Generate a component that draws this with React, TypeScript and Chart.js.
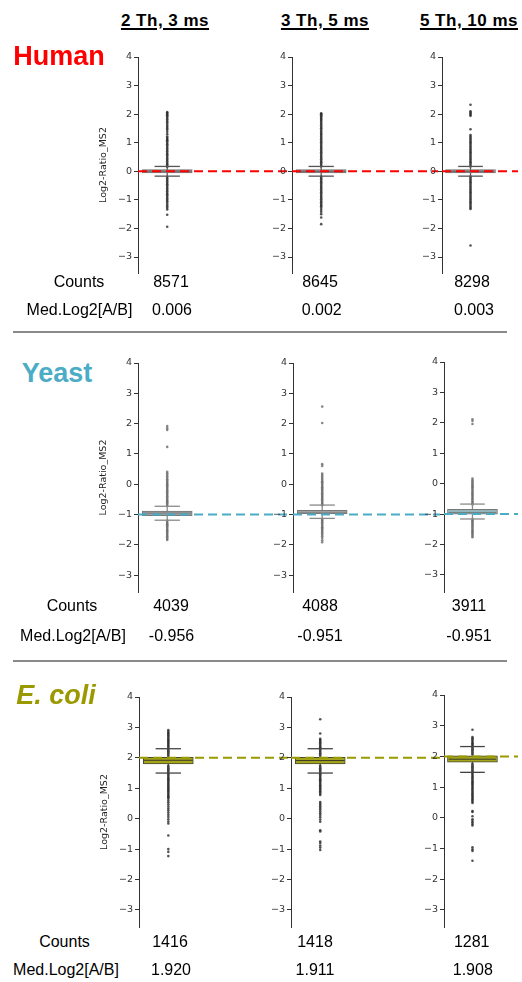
import React, { useEffect, useRef } from 'react';
import Chart from 'chart.js/auto';

// ---------------- data ----------------
const COLUMN_LABELS = ['2 Th, 3 ms', '3 Th, 5 ms', '5 Th, 10 ms'];
const SPECIES = ['Human', 'Yeast', 'E. coli'];
const EXPECTED_LOG2 = [0, -1, 2];
const Y_TICKS = [-3, -2, -1, 0, 1, 2, 3, 4];
const Y_MIN = -3.56;
const Y_MAX = 4;
const Y_TITLE = 'Log2-Ratio_MS2';
const COUNTS_LABEL = 'Counts';
const MEDIAN_LABEL = 'Med.Log2[A/B]';

const HUMAN_COUNTS = [8571, 8645, 8298];
const HUMAN_MEDIANS = [0.006, 0.002, 0.003];
const HUMAN_Q1 = [-0.06, -0.06, -0.06];
const HUMAN_Q3 = [0.06, 0.06, 0.06];
const HUMAN_WHISKER_LO = [-0.17, -0.17, -0.17];
const HUMAN_WHISKER_HI = [0.17, 0.17, 0.17];

const YEAST_COUNTS = [4039, 4088, 3911];
const YEAST_MEDIANS = [-0.956, -0.951, -0.951];
const YEAST_Q1 = [-1.04, -0.97, -1.0];
const YEAST_Q3 = [-0.89, -0.86, -0.84];
const YEAST_WHISKER_LO = [-1.19, -1.13, -1.16];
const YEAST_WHISKER_HI = [-0.73, -0.69, -0.67];

const ECOLI_COUNTS = [1416, 1418, 1281];
const ECOLI_MEDIANS = [1.92, 1.911, 1.908];
const ECOLI_Q1 = [1.8, 1.8, 1.81];
const ECOLI_Q3 = [2.02, 2.02, 2.02];
const ECOLI_WHISKER_LO = [1.5, 1.5, 1.48];
const ECOLI_WHISKER_HI = [2.3, 2.3, 2.32];

const HUMAN_POINTS_1 = [2.07, 2.04, 2.0, 1.96, 1.92, 1.87, 1.82, 1.77, 1.72, 1.66, 1.6, 1.55, 1.5, 1.45, 1.38, 1.3, 1.22, 1.17,
  1.13, 1.09, 1.05, 1.0, 0.95, 0.9, 0.85, 0.8, 0.75, 0.7, 0.65, 0.6, 0.55, 0.5, 0.45, 0.4, 0.35, 0.3, 0.25, 0.2, 0.15,
  -0.2, -0.25, -0.3, -0.35, -0.4, -0.45, -0.5, -0.55, -0.6, -0.65, -0.7, -0.75, -0.8, -0.85, -0.9, -0.95, -1.0, -1.05,
  -1.1, -1.16, -1.22, -1.28, -1.34, -1.52, -1.94];
const HUMAN_POINTS_2 = [2.03, 2.0, 1.96, 1.92, 1.88, 1.84, 1.8, 1.76, 1.71, 1.66, 1.61, 1.56, 1.51, 1.46, 1.41, 1.36, 1.31,
  1.27, 1.22, 1.17, 1.12, 1.07, 1.02, 0.97, 0.92, 0.87, 0.82, 0.77, 0.72, 0.67, 0.62, 0.57, 0.52, 0.47, 0.42, 0.37, 0.32, 0.27, 0.22, 0.17,
  -0.18, -0.23, -0.28, -0.33, -0.38, -0.43, -0.48, -0.53, -0.58, -0.63, -0.68, -0.73, -0.78, -0.83, -0.88, -0.93, -0.98, -1.03, -1.08, -1.13, -1.18, -1.22,
  -1.28, -1.35, -1.42, -1.5, -1.62, -1.85];
const HUMAN_POINTS_3 = [2.33, 2.1, 2.06, 2.02, 1.98, 1.94, 1.47, 1.27, 1.22, 1.17, 1.12, 1.07, 1.02, 0.97, 0.92, 0.87, 0.82,
  0.77, 0.72, 0.67, 0.62, 0.57, 0.52, 0.47, 0.42, 0.37, 0.32, 0.27, 0.22, 0.17,
  -0.18, -0.23, -0.28, -0.33, -0.38, -0.43, -0.48, -0.53, -0.58, -0.63, -0.68, -0.73, -0.78, -0.83, -0.88, -0.93, -0.98, -1.03, -1.08, -1.13, -1.18, -1.23, -1.28, -1.32,
  -2.6];

const YEAST_POINTS_1 = [1.92, 1.85, 1.79, 1.23, 0.41, 0.36, 0.31, 0.26, 0.21, 0.16, 0.12, 0.08, 0.04, 0.0, -0.04, -0.08, -0.12,
  -0.16, -0.2, -0.24, -0.28, -0.32, -0.36, -0.4, -0.44, -0.48, -0.52, -0.56, -0.6, -0.64, -0.68, -0.72,
  -1.2, -1.24, -1.28, -1.32, -1.36, -1.4, -1.44, -1.48, -1.52, -1.56, -1.6, -1.64, -1.68, -1.72, -1.76, -1.8, -1.84];
const YEAST_POINTS_2 = [2.56, 2.02, 0.66, 0.6, 0.35, 0.3, 0.25, 0.2, 0.15, 0.1, 0.06, 0.02, -0.02, -0.06, -0.1, -0.14, -0.18,
  -0.22, -0.26, -0.3, -0.34, -0.38, -0.42, -0.46, -0.5, -0.54, -0.58, -0.62, -0.66, -0.7,
  -1.14, -1.18, -1.22, -1.26, -1.3, -1.34, -1.38, -1.42, -1.46, -1.5, -1.54, -1.58, -1.62, -1.67, -1.72, -1.78, -1.85, -1.92];
const YEAST_POINTS_3 = [2.12, 2.06, 1.96, 0.17, 0.12, 0.08, 0.04, 0.0, -0.04, -0.08, -0.12, -0.16, -0.2, -0.24, -0.28, -0.32,
  -0.36, -0.4, -0.44, -0.48, -0.52, -0.56, -0.6, -0.64, -0.68,
  -1.16, -1.2, -1.24, -1.28, -1.32, -1.36, -1.4, -1.44, -1.48, -1.52, -1.56, -1.6, -1.64, -1.68, -1.72, -1.76];

const ECOLI_POINTS_1 = [2.91, 2.86, 2.82, 2.78, 2.74, 2.7, 2.66, 2.62, 2.58, 2.54, 2.5, 2.46, 2.42, 2.38, 2.34, 2.3, 2.26,
  2.22, 2.18, 2.14, 2.1, 2.06, 1.74, 1.7, 1.66, 1.62, 1.58, 1.54, 1.5, 1.46, 1.42, 1.38, 1.34, 1.3, 1.26, 1.22, 1.18,
  1.14, 1.1, 1.06, 1.02, 0.98, 0.94, 0.9, 0.86, 0.82, 0.78, 0.74, 0.7, 0.66, 0.6, 0.54, 0.47, 0.4, 0.33, 0.27, 0.2,
  0.13, 0.06, -0.02, -0.09, -0.16, -0.55, -1.0, -1.09, -1.23];
const ECOLI_POINTS_2 = [3.27, 2.8, 2.63, 2.59, 2.55, 2.51, 2.47, 2.43, 2.39, 2.35, 2.31, 2.27, 2.23, 2.19, 2.15, 2.11, 2.07,
  1.74, 1.7, 1.66, 1.62, 1.58, 1.54, 1.5, 1.46, 1.42, 1.38, 1.34, 1.3, 1.26, 1.22, 1.18, 1.14, 1.1, 1.06, 1.02, 0.98,
  0.94, 0.9, 0.86, 0.82, 0.78, 0.55, 0.5, 0.45, 0.4, 0.35, 0.3, 0.24, 0.18, 0.12, 0.05, -0.03, -0.1, -0.38, -0.42,
  -0.75, -0.8, -0.88, -0.95, -1.03];
const ECOLI_POINTS_3 = [2.87, 2.63, 2.59, 2.55, 2.51, 2.47, 2.43, 2.39, 2.35, 2.31, 2.27, 2.23, 2.19, 2.15, 2.11, 2.07,
  1.76, 1.72, 1.68, 1.64, 1.6, 1.56, 1.52, 1.48, 1.44, 1.4, 1.36, 1.32, 1.28, 1.24, 1.2, 1.16, 1.12, 1.08, 1.04, 1.0,
  0.96, 0.92, 0.88, 0.84, 0.8, 0.76, 0.72, 0.68, 0.64, 0.6, 0.56, 0.52, 0.48, 0.22, 0.19, 0.05, -0.05, -0.1, -0.15,
  -0.2, -0.25, -0.96, -1.03, -1.08, -1.4];

// ---------------- layout / style (not data) ----------------
const PAGE_W = 522;
const PAGE_H = 982;
const PAD = 10;
const BOX_W = 50;       // px
const BOX_OFFSET = 30;  // px from axis to box centre
const CAP_HALF = 0.26;  // box-widths
const FONT = "'Liberation Sans', Arial, sans-serif";
const TICK_FONT = "'DejaVu Sans', sans-serif";

const ROW_STYLE = [
  { color: '#ff0000', italic: false, boxFill: ['#a8a8a8', '#a8a8a8', '#a8a8a8'], boxBorder: '#707070', cap: '#555555', median: '#555555', point: 'rgba(40,40,40,0.8)' },
  { color: '#4bacc6', italic: false, boxFill: ['#a0a0a0', '#a0a0a0', '#93b4bd'], boxBorder: '#777777', cap: '#8a8a8a', median: '#7a7a7a', point: 'rgba(105,105,105,0.8)' },
  { color: '#9a9a00', italic: true, boxFill: ['#a5a51c', '#a5a51c', '#a5a51c'], boxBorder: '#4a4a35', cap: '#444444', median: '#3a3a2a', point: 'rgba(40,40,40,0.8)' },
];

const ROW_LAYOUT = [
  { top4: [56.5, 56.5, 56.5], bottom: 272, axes: [138, 292, 442], speciesX: 59, speciesBase: 66,
    labelX: [79, 79.5], base: [287.3, 316], countX: [171, 320, 472], medX: [172, 321.7, 474] },
  { top4: [363, 363, 362], bottom: 592, axes: [138, 293, 444], speciesX: 57, speciesBase: 382.5,
    labelX: [72, 73], base: [611.5, 641.5], countX: [171, 320, 469], medX: [171.5, 320, 469] },
  { top4: [696.7, 696.7, 695.2], bottom: 927, axes: [138.5, 291, 444], speciesX: 56, speciesBase: 705,
    labelX: [64.5, 66], base: [947.3, 976], countX: [170, 315, 471.7], medX: [171, 315, 472.8] },
];
const HEADER_X = [165, 325, 469];
const HEADER_BASE = 26.5;
const SEPARATORS_Y = [331, 659.5];

const ROWS = [
  { counts: HUMAN_COUNTS, medians: HUMAN_MEDIANS, q1: HUMAN_Q1, q3: HUMAN_Q3, lo: HUMAN_WHISKER_LO, hi: HUMAN_WHISKER_HI,
    points: [HUMAN_POINTS_1, HUMAN_POINTS_2, HUMAN_POINTS_3] },
  { counts: YEAST_COUNTS, medians: YEAST_MEDIANS, q1: YEAST_Q1, q3: YEAST_Q3, lo: YEAST_WHISKER_LO, hi: YEAST_WHISKER_HI,
    points: [YEAST_POINTS_1, YEAST_POINTS_2, YEAST_POINTS_3] },
  { counts: ECOLI_COUNTS, medians: ECOLI_MEDIANS, q1: ECOLI_Q1, q3: ECOLI_Q3, lo: ECOLI_WHISKER_LO, hi: ECOLI_WHISKER_HI,
    points: [ECOLI_POINTS_1, ECOLI_POINTS_2, ECOLI_POINTS_3] },
];

type PanelProps = {
  axisX: number; rightX: number; top4: number; bottomY: number; axisW: number; showTitle: boolean;
  refValue: number; refColor: string; q1: number; q3: number; med: number; lo: number; hi: number;
  points: number[]; boxFill: string; boxBorder: string; capColor: string; medColor: string; pointColor: string;
};

function PanelChart(p: PanelProps) {
  const ref = useRef<HTMLCanvasElement>(null);
  const areaW = p.rightX - p.axisX;
  const w = Math.round(p.axisW + areaW);
  const h = Math.round(PAD * 2 + (p.bottomY - p.top4));
  useEffect(() => {
    if (!ref.current) return;
    const xMin = -BOX_OFFSET / BOX_W;
    const xMax = xMin + areaW / BOX_W;
    const chart = new Chart(ref.current, {
      type: 'line',
      data: {
        datasets: [
          { type: 'line', data: [{ x: xMin, y: p.refValue }, { x: xMax, y: p.refValue }], borderColor: p.refColor,
            borderWidth: 2, borderDash: [9, 5], pointRadius: 0, order: 0 } as any,
          { type: 'line', data: [{ x: -CAP_HALF, y: p.hi }, { x: CAP_HALF, y: p.hi }], borderColor: p.capColor,
            borderWidth: 1.3, pointRadius: 0, order: 1 } as any,
          { type: 'line', data: [{ x: -CAP_HALF, y: p.lo }, { x: CAP_HALF, y: p.lo }], borderColor: p.capColor,
            borderWidth: 1.3, pointRadius: 0, order: 1 } as any,
          { type: 'line', data: [{ x: -0.5, y: p.med }, { x: 0.5, y: p.med }], borderColor: p.medColor,
            borderWidth: 1, pointRadius: 0, order: 1 } as any,
          { type: 'bar', data: [{ x: 0, y: [p.q1, p.q3] }], backgroundColor: p.boxFill, borderColor: p.boxBorder,
            borderWidth: 1, borderSkipped: false, barThickness: BOX_W, order: 2 } as any,
          { type: 'line', data: [{ x: 0, y: p.lo }, { x: 0, y: p.hi }], borderColor: p.capColor,
            borderWidth: 1.3, pointRadius: 0, order: 3 } as any,
          { type: 'scatter', data: p.points.map((v) => ({ x: 0, y: v })), pointRadius: 1.3,
            pointBackgroundColor: p.pointColor, pointBorderWidth: 0, order: 4 } as any,
        ],
      },
      options: {
        responsive: false,
        animation: false,
        devicePixelRatio: 1,
        events: [],
        layout: { padding: { top: PAD, bottom: PAD, left: 0, right: 0 } },
        plugins: { legend: { display: false }, tooltip: { enabled: false } },
        scales: {
          x: { type: 'linear', min: xMin, max: xMax, display: false, offset: false },
          y: {
            type: 'linear', min: Y_MIN, max: Y_MAX, position: 'left',
            afterBuildTicks: (s: any) => { s.ticks = Y_TICKS.map((v) => ({ value: v })); },
            afterFit: (s: any) => { s.width = p.axisW; },
            ticks: {
              font: { family: TICK_FONT, size: 9.5 }, color: '#333', padding: 2,
              callback: (v: any) => (Number(v) < 0 ? '\u2212' + Math.abs(Number(v)) : String(v)),
            },
            grid: { drawOnChartArea: false, drawTicks: true, tickLength: 4, color: '#333', tickColor: '#333', lineWidth: 1 },
            border: { display: true, color: '#333', width: 1 },
            title: { display: p.showTitle, text: Y_TITLE, font: { family: TICK_FONT, size: 9.5 }, color: '#222',
              padding: { top: 5, bottom: 0 } },
          },
        },
      } as any,
    });
    return () => chart.destroy();
  }, []);
  return (
    <canvas ref={ref} width={w} height={h}
      style={{ position: 'absolute', left: p.axisX - p.axisW, top: p.top4 - PAD, width: w, height: h }} />
  );
}

function Txt(props: { x: number; base: number; size: number; bold?: boolean; italic?: boolean; color?: string;
  underline?: boolean; spacing?: number; children: React.ReactNode }) {
  const { x, base, size } = props;
  return (
    <div style={{
      position: 'absolute', left: x, top: base - 0.8465 * size, transform: 'translateX(-50%)', whiteSpace: 'nowrap',
      fontFamily: FONT, fontSize: size, lineHeight: `${size}px`, fontWeight: props.bold ? 700 : 400,
      fontStyle: props.italic ? 'italic' : 'normal', color: props.color || '#000',
      textDecoration: props.underline ? 'underline' : 'none', textUnderlineOffset: '2px',
      textDecorationThickness: '1.5px', letterSpacing: props.spacing ? `${props.spacing}px` : undefined,
    }}>{props.children}</div>
  );
}

export default function App() {
  return (
    <div style={{ position: 'absolute', left: 0, top: 0, width: PAGE_W, height: PAGE_H, overflow: 'hidden', background: '#fff' }}>
      {COLUMN_LABELS.map((c, i) => (
        <Txt key={'h' + i} x={HEADER_X[i]} base={HEADER_BASE} size={17} bold underline spacing={0.5}>{c}</Txt>
      ))}
      {SEPARATORS_Y.map((y, i) => (
        <div key={'s' + i} style={{ position: 'absolute', left: 13, top: y, width: 494, height: 2, background: '#8a8a8a' }} />
      ))}
      {ROWS.map((row, r) => {
        const L = ROW_LAYOUT[r];
        const S = ROW_STYLE[r];
        return (
          <React.Fragment key={'r' + r}>
            {[0, 1, 2].map((c) => (
              <PanelChart key={'p' + r + c}
                axisX={L.axes[c]} rightX={c < 2 ? L.axes[c + 1] : PAGE_W} top4={L.top4[c]} bottomY={L.bottom}
                axisW={c === 0 ? 45 : 28} showTitle={c === 0}
                refValue={EXPECTED_LOG2[r]} refColor={S.color}
                q1={row.q1[c]} q3={row.q3[c]} med={row.medians[c]} lo={row.lo[c]} hi={row.hi[c]}
                points={row.points[c]} boxFill={S.boxFill[c]} boxBorder={S.boxBorder} capColor={S.cap}
                medColor={S.median} pointColor={S.point} />
            ))}
            <Txt x={L.speciesX} base={L.speciesBase} size={27} bold italic={S.italic} color={S.color}>{SPECIES[r]}</Txt>
            <Txt x={L.labelX[0]} base={L.base[0]} size={16}>{COUNTS_LABEL}</Txt>
            <Txt x={L.labelX[1]} base={L.base[1]} size={16}>{MEDIAN_LABEL}</Txt>
            {[0, 1, 2].map((c) => (
              <React.Fragment key={'v' + r + c}>
                <Txt x={L.countX[c]} base={L.base[0]} size={16}>{String(row.counts[c])}</Txt>
                <Txt x={L.medX[c]} base={L.base[1]} size={16}>{row.medians[c].toFixed(3)}</Txt>
              </React.Fragment>
            ))}
          </React.Fragment>
        );
      })}
    </div>
  );
}
